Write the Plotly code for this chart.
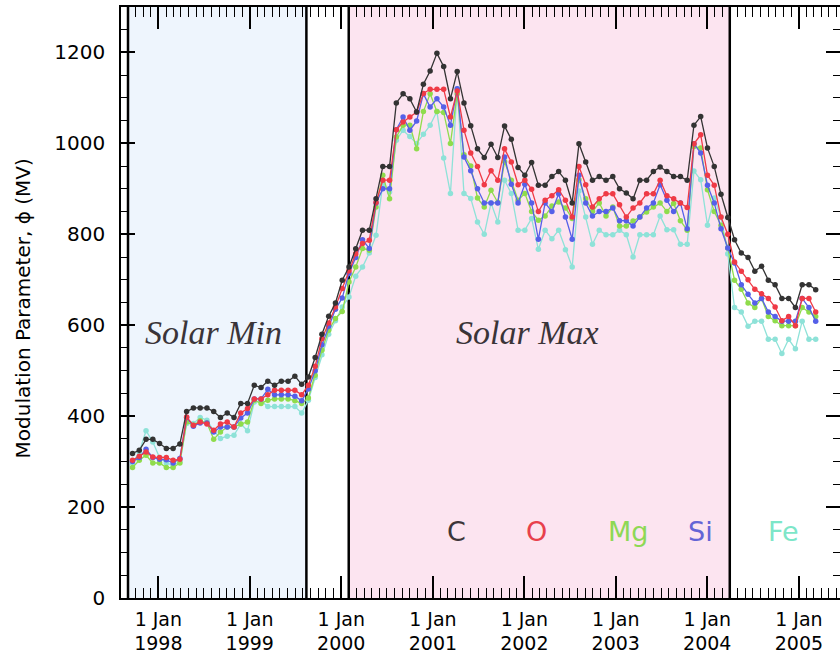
import pandas as pd
import plotly.graph_objects as go

# ---- data (27-day averages, starting 20 Sep 1997) ----
start_date = "1997-09-20"
cadence_days = 27

phi_C = [318, 325, 349, 349, 340, 329, 329, 339, 410, 418, 418, 418, 410, 397, 407, 397, 428, 428, 468, 463,
         477, 468, 477, 477, 488, 470, 486, 529, 580, 620, 649, 699, 728, 768, 809, 809, 878, 949, 949, 1089,
         1109, 1098, 1069, 1130, 1159, 1198, 1169, 1098, 1158, 1089, 1039, 988, 969, 998, 969, 1038, 1009, 947, 930, 958,
         908, 908, 927, 938, 919, 869, 999, 959, 919, 927, 919, 927, 900, 891, 878, 919, 919, 938, 948, 938,
         927, 927, 919, 1040, 1059, 990, 949, 888, 837, 788, 759, 749, 719, 730, 699, 689, 659, 659, 639, 689,
         689, 678]
phi_O = [303, 312, 321, 310, 309, 309, 303, 305, 398, 380, 387, 383, 369, 383, 387, 376, 407, 417, 438, 438,
         447, 457, 457, 457, 457, 447, 468, 510, 570, 605, 640, 681, 720, 757, 780, 787, 870, 919, 919, 1030,
         1047, 1058, 1069, 1110, 1119, 1119, 1119, 1058, 1115, 1029, 979, 949, 909, 940, 919, 988, 959, 909, 919, 899,
         850, 875, 885, 898, 875, 838, 949, 909, 860, 878, 889, 889, 865, 838, 858, 869, 889, 889, 919, 885,
         878, 869, 859, 999, 1019, 930, 908, 838, 800, 739, 719, 700, 679, 669, 659, 640, 610, 619, 599, 659,
         659, 629]
phi_Mg = [287, 303, 314, 297, 297, 287, 287, 297, 387, 380, 390, 385, 349, 365, 376, 376, 383, 387, 435, 428,
          435, 438, 438, 438, 434, 428, 440, 490, 545, 589, 615, 630, 695, 728, 769, 765, 860, 930, 878, 1014,
          1040, 1040, 988, 1070, 1109, 1070, 1068, 1000, 1109, 975, 950, 880, 860, 897, 870, 960, 919, 875, 890, 850,
          831, 840, 862, 871, 858, 835, 920, 878, 850, 869, 840, 860, 818, 818, 829, 838, 849, 860, 869, 850,
          868, 830, 809, 993, 990, 898, 850, 820, 770, 699, 679, 649, 639, 659, 619, 610, 599, 599, 599, 639,
          629, 619]
phi_Si = [300, 309, 327, 309, 305, 304, 297, 307, 397, 378, 385, 385, 365, 376, 376, 376, 396, 407, 438, 438,
          459, 447, 447, 447, 444, 434, 460, 500, 557, 598, 635, 660, 714, 749, 788, 769, 869, 900, 900, 1030,
          1058, 1029, 1049, 1109, 1080, 1098, 1080, 1040, 1120, 970, 940, 900, 869, 869, 869, 970, 910, 869, 910, 869,
          789, 869, 850, 889, 838, 789, 930, 869, 840, 850, 850, 858, 830, 830, 818, 838, 858, 869, 909, 875,
          850, 869, 812, 999, 979, 908, 869, 812, 770, 737, 689, 668, 649, 659, 629, 619, 609, 609, 609, 659,
          639, 609]
phi_Fe = [296, 321, 368, 343, 309, 297, 292, 300, 384, 384, 397, 391, 368, 351, 356, 358, 383, 368, 431, 434,
          421, 421, 421, 421, 421, 407, 435, 485, 535, 580, 610, 640, 662, 708, 728, 759, 798, 911, 893, 1007,
          1029, 1015, 1000, 1020, 1040, 1070, 968, 890, 1120, 890, 879, 827, 800, 869, 827, 919, 890, 809, 809, 835,
          767, 809, 790, 809, 766, 728, 895, 838, 778, 809, 799, 799, 809, 799, 750, 799, 799, 799, 840, 810,
          810, 778, 778, 939, 920, 820, 880, 838, 757, 639, 629, 598, 609, 609, 569, 569, 538, 569, 548, 609,
          569, 569]

species = ["C", "O", "Mg", "Si", "Fe"]
series = {"C": phi_C, "O": phi_O, "Mg": phi_Mg, "Si": phi_Si, "Fe": phi_Fe}

solar_min_period = ("1997-09-02", "1999-08-15")
solar_max_period = ("2000-01-31", "2004-03-31")

year_ticks = [1998, 1999, 2000, 2001, 2002, 2003, 2004, 2005]

# ---- styles ----
line_colors = {"C": "#333333", "O": "#ef3a46", "Mg": "#8fdc4c", "Si": "#5560e8", "Fe": "#8ee2d8"}
label_colors = {"C": "#3d3539", "O": "#e8404c", "Mg": "#8ed855", "Si": "#6464d6", "Fe": "#7de6c8"}
label_xpos = {"C": 0.4669, "O": 0.5782, "Mg": 0.7051, "Si": 0.8053, "Fe": 0.9212}

dates = pd.date_range(start_date, periods=len(phi_C), freq=f"{cadence_days}D")

fig = go.Figure()
for sp in ["Fe", "Mg", "Si", "O", "C"]:
    fig.add_trace(go.Scatter(
        x=dates, y=series[sp], mode="lines+markers", name=sp,
        line=dict(color=line_colors[sp], width=1.3),
        marker=dict(color=line_colors[sp], size=5.5),
        showlegend=False,
    ))

# shaded periods
fig.add_shape(type="rect", xref="x", yref="paper", x0=solar_min_period[0], x1=solar_min_period[1],
              y0=0, y1=1, fillcolor="#eef5fd", line=dict(width=0), layer="below")
fig.add_shape(type="rect", xref="x", yref="paper", x0=solar_max_period[0], x1=solar_max_period[1],
              y0=0, y1=1, fillcolor="#fce4f0", line=dict(width=0), layer="below")
for d in [solar_min_period[0], solar_min_period[1], solar_max_period[0], solar_max_period[1]]:
    fig.add_shape(type="line", xref="x", yref="paper", x0=d, x1=d, y0=0, y1=1,
                  line=dict(color="black", width=2.5), layer="below")

# period labels
for txt, xp in [("Solar Min", 0.1293), ("Solar Max", 0.566)]:
    fig.add_annotation(x=xp, y=0.45, xref="paper", yref="paper", text=f"<i>{txt}</i>",
                       xanchor="center", yanchor="middle", showarrow=False,
                       font=dict(family="Liberation Serif", size=34, color="#3a3438"))

# species labels
for sp in species:
    fig.add_annotation(x=label_xpos[sp], y=0.112, xref="paper", yref="paper", text=sp,
                       xanchor="center", yanchor="middle", showarrow=False,
                       font=dict(family="DejaVu Sans", size=27, color=label_colors[sp]))

# y-axis title
fig.add_annotation(x=-0.1363, y=0.49, xref="paper", yref="paper",
                   text="Modulation Parameter, \u03d5 (MV)", textangle=-90,
                   xanchor="center", yanchor="middle", showarrow=False,
                   font=dict(family="DejaVu Sans", size=20, color="black"))

tickvals = [f"{y}-01-01" for y in year_ticks]
ticktext = [f"1 Jan<br>{y}" for y in year_ticks]

fig.update_xaxes(
    range=["1997-08-05", "2005-06-14"],
    tickmode="array", tickvals=tickvals, ticktext=ticktext,
    ticks="inside", ticklen=22, tickwidth=1.5, tickcolor="black",
    showline=True, linecolor="black", linewidth=1.5, mirror="ticks",
    showgrid=False, zeroline=False,
    tickfont=dict(family="DejaVu Sans", size=19, color="black"),
    ticklabelstandoff=3,
    minor=dict(ticks="inside", ticklen=10, tickwidth=1.2, tickcolor="black",
               dtick="M1", tick0="1997-01-01", showgrid=False),
)
fig.update_yaxes(
    range=[0, 1300], tickmode="linear", tick0=0, dtick=200,
    ticks="inside", ticklen=14, tickwidth=1.5, tickcolor="black",
    showline=True, linecolor="black", linewidth=1.5, mirror="ticks",
    showgrid=False, zeroline=False,
    tickfont=dict(family="DejaVu Sans", size=20, color="black"),
    ticklabelstandoff=10,
    minor=dict(ticks="inside", ticklen=7, tickwidth=1.2, tickcolor="black", dtick=50, showgrid=False),
)

fig.update_layout(
    width=840, height=654,
    margin=dict(l=121, r=0, t=7, b=56, autoexpand=False),
    paper_bgcolor="white", plot_bgcolor="white",
    showlegend=False,
)

fig.write_html("out.html")
